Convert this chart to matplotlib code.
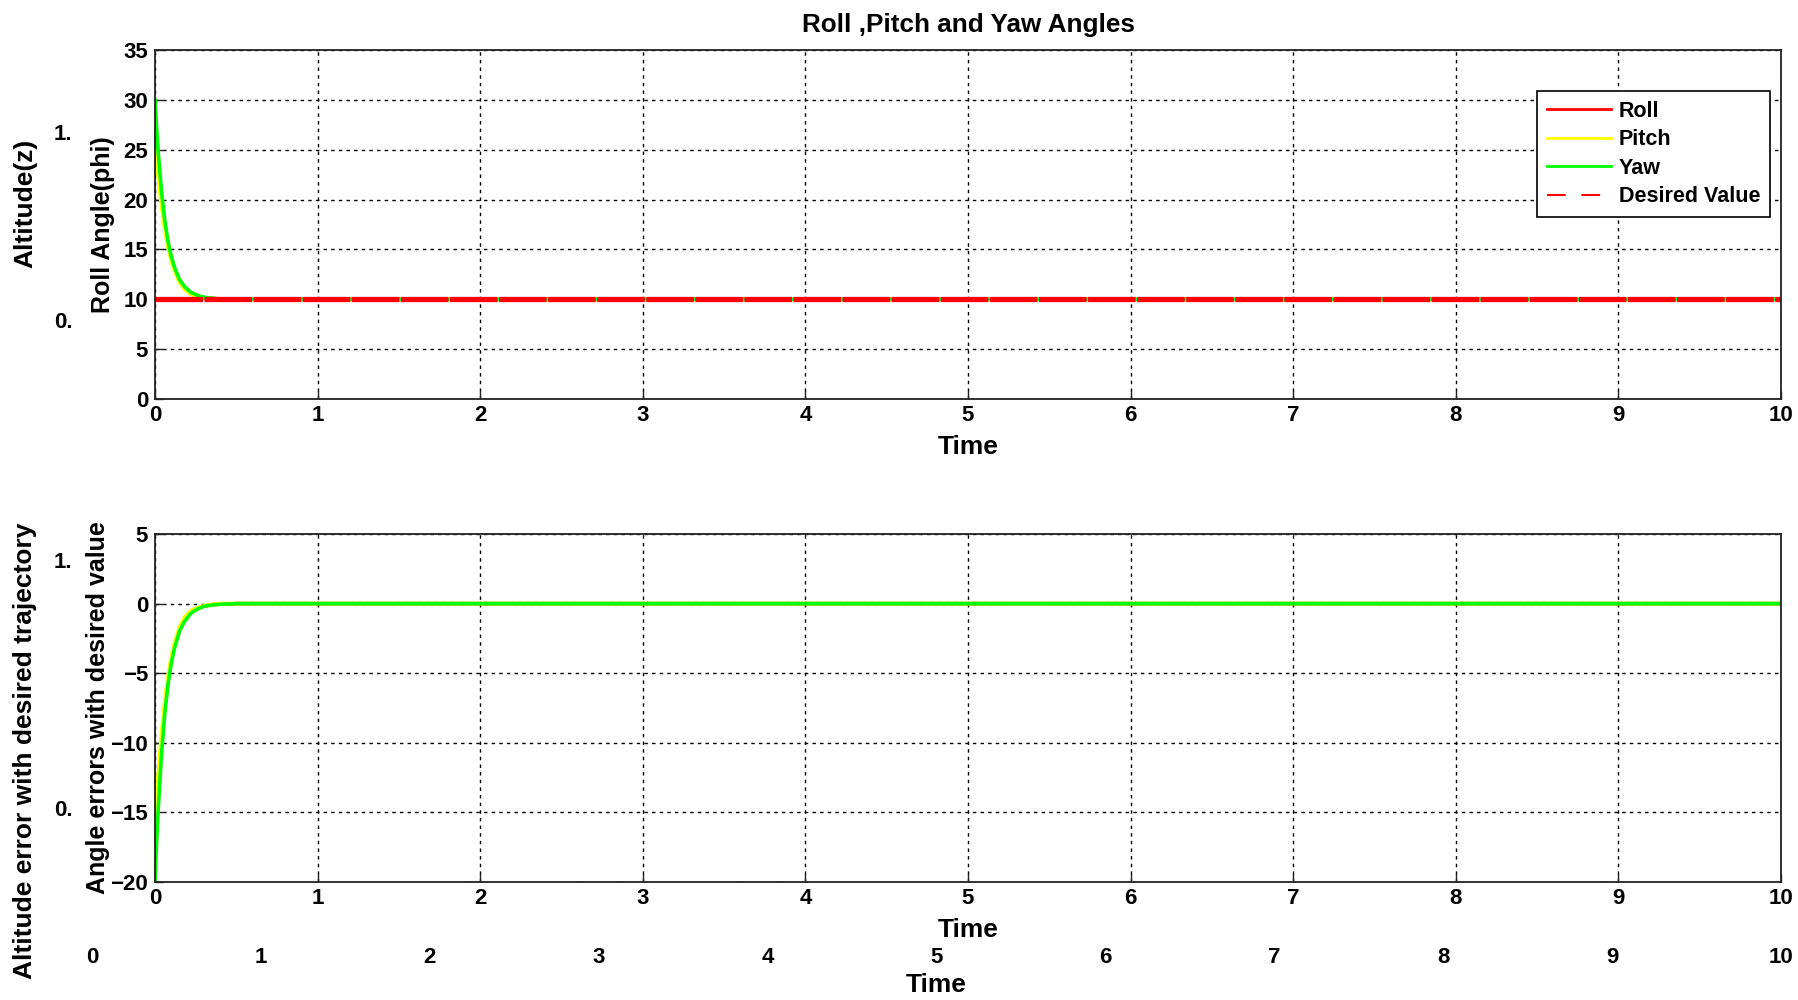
import matplotlib
matplotlib.use('Agg')
import matplotlib.pyplot as plt

# ---------------- data ----------------
t = [0, 0.01, 0.02, 0.04, 0.06, 0.08, 0.10, 0.12, 0.15, 0.18, 0.22, 0.26, 0.30, 0.35, 0.40, 0.50, 10]
roll = [26, 24.5, 22.8, 19.8, 17.4, 15.5, 14.0, 13.0, 11.9, 11.2, 10.6, 10.35, 10.18, 10.08, 10.03, 10.0, 10.0]
pitch = [26, 24.0, 22.2, 19.3, 17.0, 15.2, 13.8, 12.8, 11.7, 11.0, 10.5, 10.3, 10.15, 10.05, 10.0, 10.0, 10.0]
yaw = [30, 27.1, 24.7, 20.8, 17.9, 15.8, 14.3, 13.2, 12.0, 11.3, 10.7, 10.4, 10.2, 10.1, 10.05, 10.0, 10.0]
t_des = [0, 10]
desired = [10, 10]

roll_err = [-16, -14.5, -12.8, -9.8, -7.4, -5.5, -4.0, -3.0, -1.9, -1.2, -0.6, -0.35, -0.18, -0.08, -0.03, 0, 0]
pitch_err = [-16, -14.0, -12.2, -9.3, -7.0, -5.2, -3.8, -2.8, -1.7, -1.0, -0.5, -0.3, -0.15, -0.05, 0, 0, 0]
yaw_err = [-20, -17.1, -14.7, -10.8, -7.9, -5.8, -4.3, -3.2, -2.0, -1.3, -0.7, -0.4, -0.2, -0.1, -0.05, 0, 0]

x_ticks = list(range(0, 11))
y_ticks_top = [0, 5, 10, 15, 20, 25, 30, 35]
y_ticks_bot = [-20, -15, -10, -5, 0, 5]
legend_labels = ['Roll', 'Pitch', 'Yaw', 'Desired Value']
ghost_y_ticks = ['1.', '0.']

# ---------------- fonts ----------------
plt.rcParams['font.family'] = ['Liberation Sans', 'DejaVu Sans']
plt.rcParams['font.weight'] = 'bold'
TICK_SIZE = 16

W, H = 1798, 1000
fig = plt.figure(figsize=(W / 100, H / 100), dpi=100)

ax1 = fig.add_axes([155 / W, 1 - 399 / H, 1626 / W, 349 / H])
ax2 = fig.add_axes([155 / W, 1 - 882 / H, 1626 / W, 348 / H])

RED, YEL, GRN = '#ff0000', '#ffff00', '#00ff00'

ax1.plot(t, roll, color=RED, lw=2.6, label=legend_labels[0])
ax1.plot(t, pitch, color=YEL, lw=2.6, label=legend_labels[1])
ax1.plot(t, yaw, color=GRN, lw=2.6, label=legend_labels[2])
ax1.plot(t_des, desired, color=RED, lw=3.8, linestyle=(0, (9, 0.3)), label=legend_labels[3])

ax2.plot(t, roll_err, color=RED, lw=2.6)
ax2.plot(t, pitch_err, color=YEL, lw=2.6)
ax2.plot(t, yaw_err, color=GRN, lw=2.6)

for ax, yt in ((ax1, y_ticks_top), (ax2, y_ticks_bot)):
    ax.set_xlim(0, 10)
    ax.set_ylim(yt[0], yt[-1])
    ax.set_xticks(x_ticks)
    ax.set_yticks(yt)
    ax.grid(True, color='black', linestyle=(0, (2.5, 3)), linewidth=1.0)
    ax.tick_params(direction='in', length=6, width=1, color='#222222', labelsize=TICK_SIZE)
    ax.tick_params(axis='x', pad=4)
    ax.tick_params(axis='y', pad=5)
    for lab in ax.get_xticklabels() + ax.get_yticklabels():
        lab.set_fontweight('bold')
    for s in ax.spines.values():
        s.set_color('#222222')
        s.set_linewidth(1.3)
    ax.set_xlabel('Time', fontsize=19, fontweight='bold', labelpad=7)
    ax.set_axisbelow(True)

ax1.set_ylabel('Roll Angle(phi)', fontsize=18, fontweight='bold', labelpad=6)
ax2.set_ylabel('Angle errors with desired value', fontsize=18, fontweight='bold', labelpad=0)
ax1.set_title('Roll ,Pitch and Yaw Angles', fontsize=18.8, fontweight='bold', pad=13)

leg = ax1.legend(loc='upper right', bbox_to_anchor=(0.9932, 0.8825), borderaxespad=0,
                 fontsize=15.5, handlelength=3.0, handletextpad=0.35, labelspacing=0.35,
                 borderpad=0.45, fancybox=False, framealpha=1, edgecolor='black')
leg.get_frame().set_linewidth(1.2)
for ln in leg.get_lines():
    ln.set_linewidth(2)
leg.get_lines()[3].set_linewidth(1.5)
leg.get_lines()[3].set_linestyle((0, (9, 7.5)))
for txt in leg.get_texts():
    txt.set_fontweight('bold')

# ---------------- ghost elements from an underlying figure ----------------
fig.text(25 / W, 1 - 203 / H, 'Altitude(z)', rotation=90, ha='center', va='center',
         fontsize=19, fontweight='bold')
fig.text(63 / W, 1 - 135 / H, ghost_y_ticks[0], ha='center', va='center',
         fontsize=TICK_SIZE, fontweight='bold')
fig.text(63 / W, 1 - 323 / H, ghost_y_ticks[1], ha='center', va='center',
         fontsize=TICK_SIZE, fontweight='bold')
fig.text(25 / W, 1 - 751 / H, 'Altitude error with desired trajectory', rotation=90,
         ha='center', va='center', fontsize=19, fontweight='bold')
fig.text(63 / W, 1 - 562 / H, ghost_y_ticks[0], ha='center', va='center',
         fontsize=TICK_SIZE, fontweight='bold')
fig.text(63 / W, 1 - 810 / H, ghost_y_ticks[1], ha='center', va='center',
         fontsize=TICK_SIZE, fontweight='bold')

axg = fig.add_axes([92 / W, 1 - 944 / H, (1781 - 92) / W, 0.0001])
axg.set_xlim(0, 10)
axg.set_xticks(x_ticks)
axg.set_yticks([])
for s in axg.spines.values():
    s.set_visible(False)
axg.tick_params(axis='x', length=0, pad=2, labelsize=TICK_SIZE)
for lab in axg.get_xticklabels():
    lab.set_fontweight('bold')
axg.set_xlabel('Time', fontsize=19, fontweight='bold', labelpad=4)
axg.patch.set_visible(False)

fig.savefig('out.png', dpi=100, facecolor='white')
